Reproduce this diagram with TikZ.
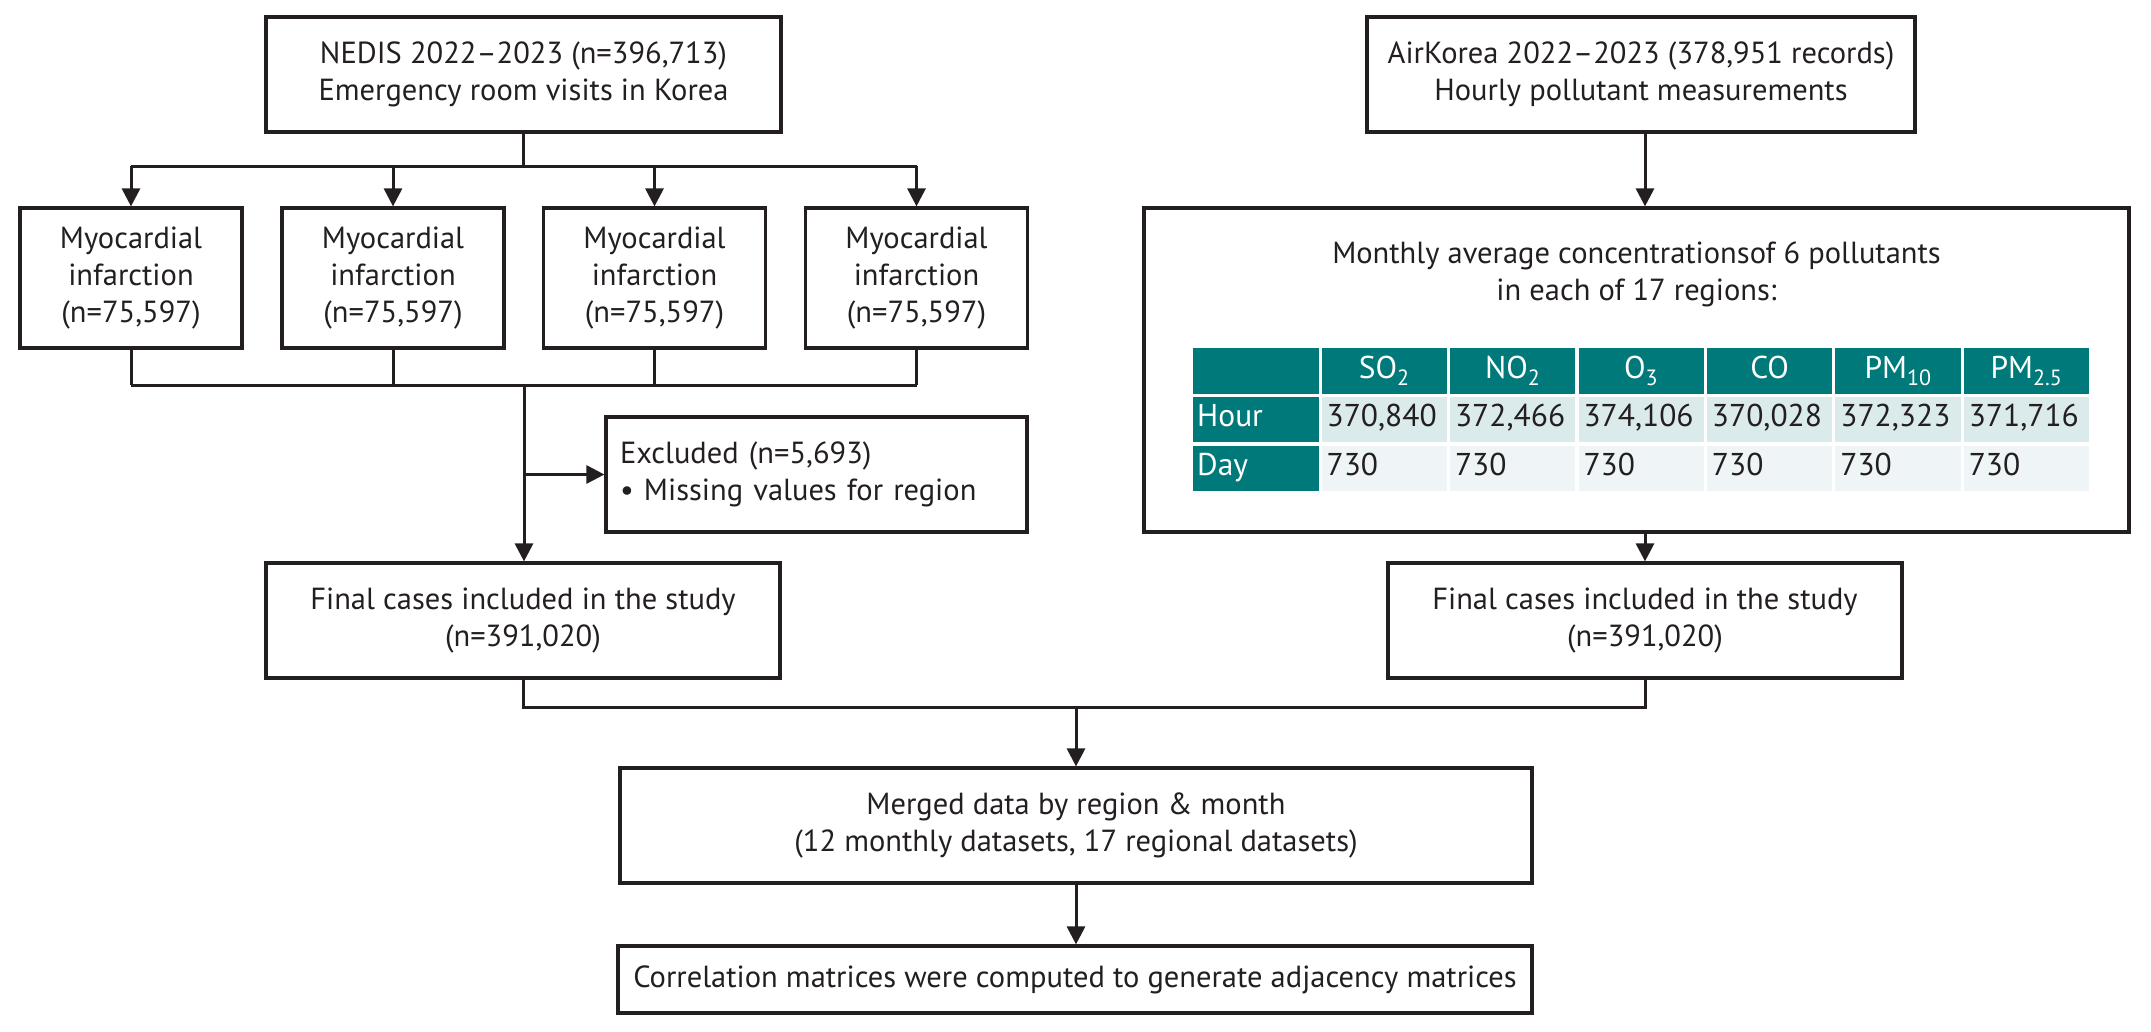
\documentclass[tikz,border=0pt]{standalone}
\usepackage{fontspec}
\setmainfont{PT Sans}
\usetikzlibrary{arrows.meta}
\definecolor{ink}{RGB}{35,31,32}
\definecolor{tealhd}{RGB}{0,121,122}
\definecolor{hourbg}{RGB}{219,235,236}
\definecolor{daybg}{RGB}{239,245,247}
\begin{document}
\begin{tikzpicture}[x=1pt,y=-1pt,
  txt/.style={font=\fontsize{30.5}{37}\selectfont, text=ink},
  tbtxt/.style={font=\fontsize{31.5}{37}\selectfont, text=ink},
  box/.style={txt, draw=ink, line width=3.2pt, align=center, inner sep=0pt},
  conn/.style={draw=ink, line width=3pt},
  arr/.style={conn, -{Triangle[width=18pt,length=18pt]}},
  cell/.style={tbtxt, anchor=north west, minimum width=125.4pt, minimum height=45.5pt,
     inner sep=0pt, text height=21pt, text depth=6pt},
  hdcell/.style={cell, fill=tealhd, text=white, align=center, text width=125.4pt},
  lbcell/.style={cell, fill=tealhd, text=white, align=left, inner xsep=4pt, text width=117.4pt},
  hrcell/.style={cell, fill=hourbg, align=left, inner xsep=5pt, text width=115.4pt},
  dycell/.style={cell, fill=daybg, align=left, inner xsep=5pt, text width=115.4pt}]
\useasboundingbox (0,0) rectangle (2151,1031);

% left column
\node[box, minimum width=515pt, minimum height=115pt] (nedis) at (523.5,74.5)
  {NEDIS 2022–2023 (n=396,713)\\Emergency room visits in Korea};
\foreach \i/\cx in {1/131,2/393,3/654.5,4/916.5}{
  \node[box, minimum width=222pt, minimum height=140pt] (mi\i) at (\cx,278)
    {Myocardial\\infarction\\(n=75,597)};
}
\coordinate (br) at (523.5,166);
\coordinate (col) at (524,385);
\draw[conn] (nedis.south) -- (br);
\draw[conn] (br -| mi1) -- (br -| mi4);
\foreach \i in {1,2,3,4}{
  \draw[arr] (br -| mi\i) -- (mi\i.north);
  \draw[conn] (mi\i.south) -- (mi\i.south |- col);
}
\draw[conn] (col -| mi1) -- (col -| mi4);

\node[box, minimum height=115pt, text width=393pt, inner xsep=14pt, align=left] (exc) at (816.5,474.5)
  {Excluded (n=5,693)\\• Missing values for region};
\node[box, minimum width=514pt, minimum height=115pt] (fin1) at (523,620.5)
  {Final cases included in the study\\(n=391,020)};
\draw[arr] (col) -- (col |- fin1.north);
\draw[arr] (col |- exc.west) -- (exc.west);

% right column
\node[box, minimum width=548pt, minimum height=115pt] (air) at (1641,74.5)
  {AirKorea 2022–2023 (378,951 records)\\Hourly pollutant measurements};
\node[box, minimum width=985pt, minimum height=324pt] (big) at (1636.5,370) {};
\node[txt, align=center, inner sep=0pt] (bigtitle) at (1636.5,274)
  {Monthly average concentrationsof 6 pollutants\\in each of 17 regions:};
\node[box, minimum width=514pt, minimum height=115pt] (fin2) at (1645,620.5)
  {Final cases included in the study\\(n=391,020)};
\draw[arr] (fin2 |- air.south) -- (fin2 |- big.north);
\draw[arr] (fin2 |- big.south) -- (fin2.north);

% table
\foreach \j/\lab in {0/{},1/{SO\textsubscript{2}},2/{NO\textsubscript{2}},3/{O\textsubscript{3}},4/{CO},5/{PM\textsubscript{10}},6/{PM\textsubscript{2.5}}}{
  \node[hdcell] (hd\j) at ({1193+128.43*\j},348) {\lab};
}
\node[lbcell] (hrlab) at (1193,396.5) {Hour};
\node[lbcell] (dylab) at (1193,445.5) {Day};
\foreach \j/\v in {1/370{,}840,2/372{,}466,3/374{,}106,4/370{,}028,5/372{,}323,6/371{,}716}{
  \node[hrcell] (hr\j) at ({1193+128.43*\j},396.5) {\v};
  \node[dycell] (dy\j) at ({1193+128.43*\j},445.5) {730};
}

% merge
\node[box, minimum width=912pt, minimum height=115pt] (merged) at (1076,825.5)
  {Merged data by region \& month\\(12 monthly datasets, 17 regional datasets)};
\node[box, minimum width=914pt, minimum height=67pt] (corr) at (1075,979.5)
  {Correlation matrices were computed to generate adjacency matrices};
\coordinate (mg) at (1076,707);
\draw[conn] (fin1.south) -- (fin1.south |- mg) -- (fin2.south |- mg) -- (fin2.south);
\draw[arr] (mg) -- (merged.north);
\draw[arr] (merged.south) -- (merged.south |- corr.north);
\end{tikzpicture}
\end{document}
